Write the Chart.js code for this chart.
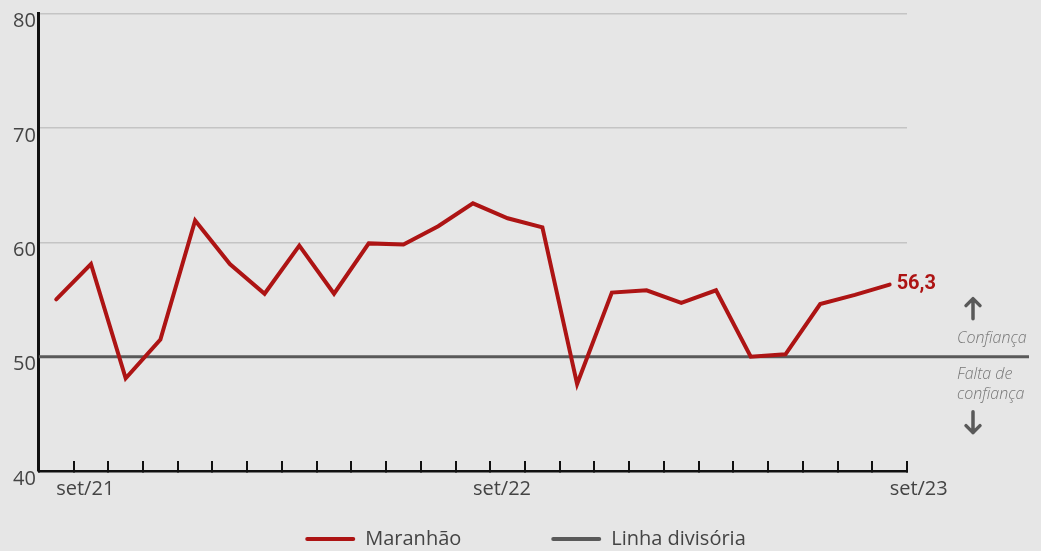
<!DOCTYPE html>
<html>
<head>
<meta charset="utf-8">
<script src="https://cdn.jsdelivr.net/npm/chart.js@4.4.1/dist/chart.umd.min.js"></script>
<style>
  html, body { margin: 0; padding: 0; background: #e6e6e6; }
  #wrap { width: 1041px; height: 551px; }
</style>
</head>
<body>
<div id="wrap"><canvas id="c" width="1041" height="551"></canvas></div>
<script>
const months = ['set/21','out/21','nov/21','dez/21','jan/22','fev/22','mar/22','abr/22','mai/22','jun/22','jul/22','ago/22',
                'set/22','out/22','nov/22','dez/22','jan/23','fev/23','mar/23','abr/23','mai/23','jun/23','jul/23','ago/23','set/23'];
const shownLabels = ['set/21','set/22','set/23'];
const maranhao = [55.0, 58.1, 48.1, 51.5, 61.9, 58.1, 55.5, 59.7, 55.5, 59.9, 59.8, 61.4,
                  63.4, 62.1, 61.3, 47.6, 55.6, 55.8, 54.7, 55.8, 50.0, 50.2, 54.6, 55.4, 56.3];
const divider = 50;
const yTicks = [40, 50, 60, 70, 80];
const seriesNames = ['Maranhão', 'Linha divisória'];
const lastLabel = '56,3';
const sideTexts = ['Confiança', 'Falta de', 'confiança'];

const RED = '#ad1414';
const GREY = '#595959';
const FONT = '"Open Sans", "Noto Sans", sans-serif';

const annot = {
  id: 'annot',
  beforeDatasetsDraw(chart) {
    const {ctx, chartArea, scales: {y}} = chart;
    const py = y.getPixelForValue(divider);
    ctx.save();
    ctx.strokeStyle = GREY;
    ctx.lineWidth = 3;
    ctx.beginPath();
    ctx.moveTo(chartArea.left, py);
    ctx.lineTo(chartArea.right + 122, py);
    ctx.stroke();
    ctx.restore();
  },
  afterDatasetsDraw(chart) {
    const {ctx, chartArea, scales: {y}} = chart;
    const py = y.getPixelForValue(divider);
    const meta = chart.getDatasetMeta(0);
    const last = meta.data[meta.data.length - 1];
    ctx.save();
    ctx.fillStyle = RED;
    ctx.font = 'bold 20px Roboto, sans-serif';
    ctx.textAlign = 'left';
    ctx.textBaseline = 'middle';
    ctx.fillText(lastLabel, last.x + 7, last.y - 1);

    const tx = chartArea.right + 50;
    ctx.fillStyle = '#777';
    ctx.font = 'italic 300 16px ' + FONT;
    ctx.fillText(sideTexts[0], tx, py - 18);
    ctx.fillText(sideTexts[1], tx, py + 18);
    ctx.fillText(sideTexts[2], tx, py + 38);

    const ax = chartArea.right + 66;
    ctx.strokeStyle = GREY;
    ctx.lineWidth = 3.5;
    ctx.lineCap = 'round';
    ctx.lineJoin = 'round';
    ctx.beginPath();
    ctx.moveTo(ax, py - 38); ctx.lineTo(ax, py - 58);
    ctx.moveTo(ax - 7, py - 51); ctx.lineTo(ax, py - 58); ctx.lineTo(ax + 7, py - 51);
    ctx.stroke();
    ctx.beginPath();
    ctx.moveTo(ax, py + 55); ctx.lineTo(ax, py + 76);
    ctx.moveTo(ax - 7, py + 69); ctx.lineTo(ax, py + 76); ctx.lineTo(ax + 7, py + 69);
    ctx.stroke();
    ctx.restore();
  }
};

new Chart(document.getElementById('c'), {
  type: 'line',
  data: {
    labels: months,
    datasets: [
      { label: seriesNames[0], data: maranhao, borderColor: RED, backgroundColor: RED,
        borderWidth: 4, pointRadius: 0, tension: 0, borderCapStyle: 'round', borderJoinStyle: 'miter', yAxisID: 'y' },
      { label: seriesNames[1], data: [], borderColor: GREY, backgroundColor: GREY, borderWidth: 4, pointRadius: 0, yAxisID: 'y' }
    ]
  },
  options: {
    responsive: false,
    animation: false,
    devicePixelRatio: 1,
    layout: { padding: { left: 10, right: 0, top: 0, bottom: -8 } },
    plugins: {
      tooltip: { enabled: false },
      legend: {
        position: 'bottom',
        labels: {
          boxWidth: 50,
          boxHeight: 4,
          padding: 12,
          useBorderRadius: true,
          borderRadius: 2,
          color: '#444',
          font: { family: FONT, size: 20 },
          generateLabels(chart) {
            return chart.data.datasets.map((ds, i) => ({
              text: i === 0 ? ds.label + '\u00a0'.repeat(15) : ds.label,
              fillStyle: ds.borderColor,
              strokeStyle: ds.borderColor,
              lineWidth: 0,
              borderRadius: 2,
              fontColor: '#444',
              datasetIndex: i,
              hidden: false
            }));
          }
        }
      }
    },
    scales: {
      x: {
        offset: true,
        grid: { display: true, drawOnChartArea: false, drawTicks: true, tickLength: -10, color: '#111', lineWidth: 2, offset: true },
        border: { display: true, color: '#111', width: 2.5 },
        ticks: {
          autoSkip: false, maxRotation: 0, minRotation: 0, align: 'start', padding: 16,
          color: '#444', font: { family: FONT, size: 20 },
          callback(v, i) { const l = months[i]; return shownLabels.includes(l) ? l : ''; }
        }
      },
      y: {
        min: yTicks[0], max: yTicks[yTicks.length - 1],
        afterBuildTicks(scale) { scale.ticks = yTicks.map(v => ({ value: v })); },
        grid: { color: '#c4c4c4', lineWidth: 1.5, drawTicks: false },
        border: { display: true, color: '#111', width: 3 },
        ticks: { padding: 3, labelOffset: 8, color: '#444', font: { family: FONT, size: 20, lineHeight: 1.05 } }
      },
      side: {
        position: 'right',
        min: yTicks[0], max: yTicks[yTicks.length - 1],
        grid: { display: false, drawTicks: false },
        border: { display: false },
        ticks: { display: false },
        afterFit(scale) { scale.width = 134; }
      }
    }
  },
  plugins: [annot]
});
</script>
</body>
</html>
